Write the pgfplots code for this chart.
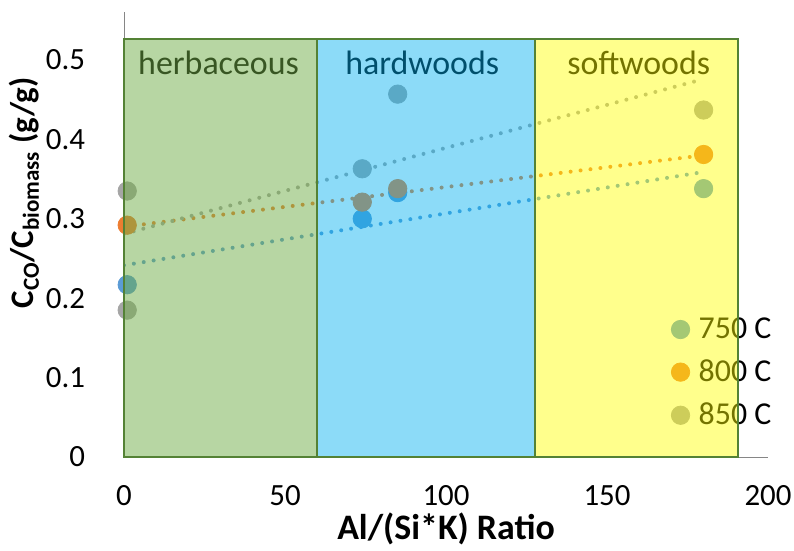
\documentclass[border=0pt]{standalone}
\usepackage{pgfplots}
\pgfplotsset{compat=1.18}
\usepackage{fontspec}
\setmainfont{Carlito}
\definecolor{c750}{HTML}{5B9BD5}
\definecolor{c800}{HTML}{ED7D31}
\definecolor{c850}{HTML}{A5A5A5}
\definecolor{bxgreen}{HTML}{70AD47}
\definecolor{bxblue}{HTML}{00B0F0}
\definecolor{bxyellow}{HTML}{FFFF00}
\definecolor{bxedge}{HTML}{548235}
\definecolor{axgray}{HTML}{868686}
\begin{document}
\begin{tikzpicture}
\begin{axis}[
 set layers,
 x=1.61bp, y=397bp,
 xmin=0, xmax=200, ymin=0, ymax=0.56,
 axis x line*=bottom, axis y line*=left,
 axis line style={draw=axgray, line width=0.5bp, -},
 xtick={0,50,100,150,200}, ytick={0,0.1,0.2,0.3,0.4,0.5},
 major tick length=0pt,
 /pgf/number format/assume math mode=true,
 tick label style={font=\fontsize{15.5}{18}\selectfont, text=black},
 yticklabel shift=16bp,
 xticklabel shift=10.5bp,
 xlabel={\textbf{Al/(Si*K) Ratio}},
 xlabel style={font=\fontsize{18}{21}\selectfont, at={(axis description cs:0.5,0)}, anchor=center, yshift=-36bp},
 ylabel={\textbf{C\textsubscript{CO}/C\textsubscript{biomass} (g/g)}},
 ylabel style={font=\fontsize{16.5}{20}\selectfont, at={(axis description cs:-0.155,0.594)}, anchor=center},
 legend style={at={(axis cs:168,0.186)}, anchor=north west, draw=none, fill=none, font=\fontsize{16}{19}\selectfont, row sep=5.2bp, column sep=2.5bp},
 legend cell align=left,
]
% trendlines
\addplot[c750, line width=2bp, line cap=round, dash pattern=on 0pt off 5bp, forget plot] coordinates {(0,0.2415) (180,0.359)};
\addplot[c800, line width=2bp, line cap=round, dash pattern=on 0pt off 5bp, forget plot] coordinates {(0,0.290) (180,0.380)};
\addplot[c850, line width=2bp, line cap=round, dash pattern=on 0pt off 5bp, forget plot] coordinates {(0,0.281) (180,0.476)};
% data
\addplot[only marks, mark=*, color=c750, mark size=4.6bp] coordinates {(1,0.217) (74,0.300) (85,0.333) (180,0.338)};
\addlegendentry{750 C}
\addplot[only marks, mark=*, color=c800, mark size=4.6bp] coordinates {(1,0.292) (74,0.321) (85,0.338) (180,0.381)};
\addlegendentry{800 C}
\addplot[only marks, mark=*, color=c850, mark size=4.6bp] coordinates {(1,0.185) (1,0.335) (74,0.363) (85,0.457) (180,0.437)};
\addlegendentry{850 C}
% category boxes
\addplot[on layer=axis foreground, draw=bxedge, line width=1bp, fill=bxgreen, fill opacity=0.5, forget plot] coordinates {(0,0.527) (60,0.527)} \closedcycle;
\addplot[on layer=axis foreground, draw=bxedge, line width=1bp, fill=bxblue, fill opacity=0.45, forget plot] coordinates {(60,0.527) (127.5,0.527)} \closedcycle;
\addplot[on layer=axis foreground, draw=bxedge, line width=1bp, fill=bxyellow, fill opacity=0.45, forget plot] coordinates {(127.5,0.527) (190.7,0.527)} \closedcycle;
% category names
\addplot[on layer=axis foreground, only marks, mark=none, forget plot, point meta=explicit symbolic,
  nodes near coords, nodes near coords style={anchor=west, inner sep=0pt, text=black, font=\fontsize{17}{20}\selectfont}]
  coordinates {(4.3,0.496)[herbaceous] (68.6,0.496)[hardwoods] (137.6,0.496)[softwoods]};
\coordinate (O) at (axis cs:0,0);
\end{axis}
\pgfresetboundingbox
\path[use as bounding box] (O) ++(-62bp,-47bp) rectangle ++(397bp,275.5bp);
\end{tikzpicture}
\end{document}
